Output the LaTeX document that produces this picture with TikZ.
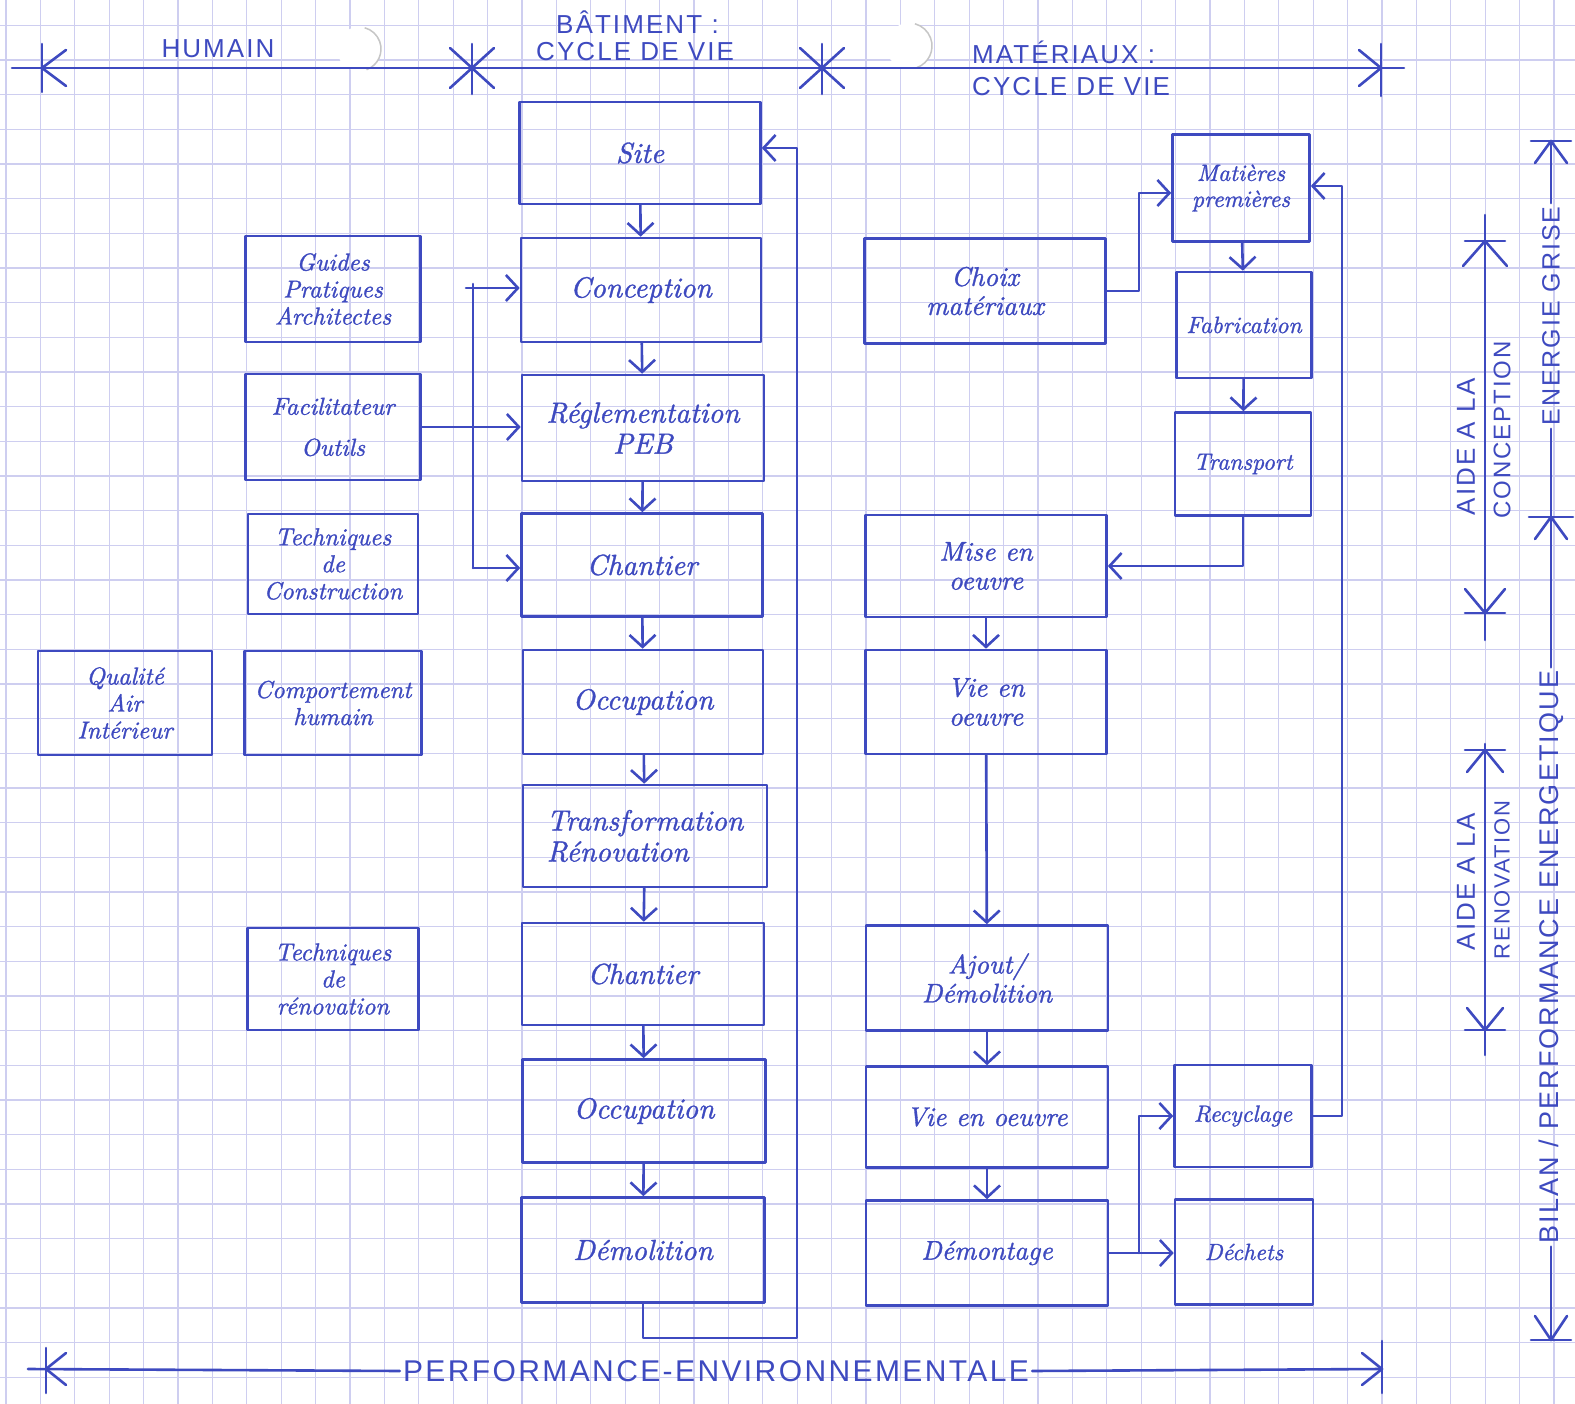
\documentclass[tikz,border=0pt]{standalone}
\usepackage{fontspec}
\usetikzlibrary{arrows.meta,calc}
\newfontfamily\mycapsfam{Liberation Sans}[LetterSpace=8]
\newfontfamily\handit{lmroman10-italic.otf}[FakeBold=1.2]
\definecolor{ink}{RGB}{62,74,192}
\definecolor{gridc}{RGB}{206,206,240}
\newcommand\itL{\handit\fontsize{29}{31}\selectfont}
\newcommand\itM{\handit\fontsize{27}{29}\selectfont}
\newcommand\itS{\handit\fontsize{24.5}{27}\selectfont}
\newcommand\itT{\handit\fontsize{23.5}{26}\selectfont}
\newcommand\capM{\mycapsfam\fontsize{26}{30}\selectfont}
\newcommand\capP{\mycapsfam\fontsize{30}{34}\selectfont}
\begin{document}
\begin{tikzpicture}[x=1pt,y=-1pt,
  gridline/.style={gridc, line width=1.2pt},
  inkline/.style={draw=ink, line width=2.6pt, line cap=round, line join=round},
  box/.style={inkline, rectangle, inner sep=2pt, align=center, text=ink},
  cbox/.style={box, font=\itL},
  lbox/.style={box, font=\itS},
  rbox/.style={box, font=\itM},
  sbox/.style={box, font=\itT},
  arr/.style={inkline, -{Straight Barb[length=12pt,width=26pt]}},
  lab/.style={text=ink, inner sep=3pt},
  vlab/.style={lab, rotate=90},
]
\fill[white] (0,0) rectangle (1575,1404);
\useasboundingbox (0,0) rectangle (1575,1404);
% graph paper
\foreach \i in {0,...,45} \draw[gridline] ({5.9+34.4*\i},0) -- ({5.9+34.4*\i},1404);
\foreach \j in {0,...,40} \draw[gridline] (0,{25.3+34.67*\j}) -- (1575,{25.3+34.67*\j});
% paper reflections
\fill[white] (359,49) circle (22pt);
\draw[gray!45, line width=1.5pt] (359,49) ++(-70:22pt) arc[start angle=-70, end angle=75, radius=22pt];
\fill[white] (909,46) circle (23pt);
\draw[gray!45, line width=1.5pt] (909,46) ++(-70:23pt) arc[start angle=-70, end angle=75, radius=23pt];

% ---------- building life cycle ----------
\node[cbox, minimum width=241pt, minimum height=102pt] (site)  at (640,153)  {Site};
\node[cbox, minimum width=240pt, minimum height=104pt] (conc)  at (641,290)  {Conception};
\node[cbox, minimum width=242pt, minimum height=106pt] (regl)  at (643,428)  {Réglementation\\PEB};
\node[cbox, minimum width=241pt, minimum height=103pt] (chan1) at (642,565)  {Chantier};
\node[cbox, minimum width=240pt, minimum height=104pt] (occ1)  at (643,702)  {Occupation};
\node[cbox, minimum width=244pt, minimum height=102pt, align=left] (trans) at (645,836) {Transformation\\Rénovation};
\node[cbox, minimum width=242pt, minimum height=102pt] (chan2) at (643,974)  {Chantier};
\node[cbox, minimum width=243pt, minimum height=103pt] (occ2)  at (644,1111) {Occupation};
\node[cbox, minimum width=243pt, minimum height=105pt] (dem)   at (643,1250) {Démolition};

% ---------- human ----------
\node[lbox, minimum width=175pt, minimum height=106pt] (guides) at (333,289) {Guides\\Pratiques\\Architectes};
\node[lbox, minimum width=175pt, minimum height=106pt] (facil)  at (333,427) {Facilitateur\\[14pt]Outils};
\node[lbox, minimum width=170pt, minimum height=100pt] (techc)  at (333,564) {Techniques\\de\\Construction};
\node[lbox, minimum width=174pt, minimum height=104pt] (qual)   at (125,703) {Qualité\\Air\\Intérieur};
\node[lbox, minimum width=177pt, minimum height=104pt] (comp)   at (333,703) {Comportement\\humain};
\node[lbox, minimum width=171pt, minimum height=102pt] (techr)  at (333,979) {Techniques\\de\\rénovation};

% ---------- materials ----------
\node[rbox, minimum width=241pt, minimum height=105pt] (choix)  at (985,291)  {Choix\\matériaux};
\node[sbox, minimum width=137pt, minimum height=107pt] (matp)   at (1241,188) {Matières\\premières};
\node[sbox, minimum width=135pt, minimum height=106pt] (fab)    at (1244,325) {Fabrication};
\node[sbox, minimum width=136pt, minimum height=103pt] (transp) at (1243,464) {Transport};
\node[rbox, minimum width=241pt, minimum height=102pt] (mise)   at (986,566)  {Mise en\\oeuvre};
\node[rbox, minimum width=241pt, minimum height=104pt] (vie1)   at (986,702)  {Vie en\\oeuvre};
\node[rbox, minimum width=242pt, minimum height=105pt] (ajout)  at (987,978)  {Ajout/\\Démolition};
\node[rbox, minimum width=242pt, minimum height=101pt] (vie2)   at (987,1117) {Vie en oeuvre};
\node[rbox, minimum width=242pt, minimum height=105pt] (demont) at (987,1253) {Démontage};
\node[sbox, minimum width=137pt, minimum height=102pt] (recy)   at (1243,1116) {Recyclage};
\node[sbox, minimum width=138pt, minimum height=105pt] (dech)   at (1244,1252) {Déchets};

% ---------- connectors: building ----------
\draw[arr] (site) -- (conc);
\draw[arr] (conc) -- (regl);
\draw[arr] (regl) -- (chan1);
\draw[arr] (chan1) -- (occ1);
\draw[arr] (occ1) -- (trans);
\draw[arr] (trans) -- (chan2);
\draw[arr] (chan2) -- (occ2);
\draw[arr] (occ2) -- (dem);
\coordinate (lpA) at (797,1338);
\coordinate (lpB) at (797,148);
\draw[arr] (dem.south) |- (lpA) -- (lpB) -- (site.east |- lpB);

% ---------- connectors: human ----------
\coordinate (busA) at (466,288);
\coordinate (busT) at (473,284);
\coordinate (busB) at (473,568);
\draw[inkline] (busT) -- (busB);
\draw[arr] (busA) -- (conc.west |- busA);
\draw[arr] (busB) -- (chan1.west |- busB);
\draw[arr] (facil.east) -- (regl.west |- facil.east);

% ---------- connectors: materials ----------
\coordinate (jA) at (1139,193);
\draw[arr] (choix.east) -| (jA) -- (matp.west |- jA);
\draw[arr] (matp) -- (fab);
\draw[arr] (fab) -- (transp);
\draw[arr] (transp.south) |- (mise.east);
\draw[arr] (mise) -- (vie1);
\draw[arr] (vie1) -- (ajout);
\draw[arr] (ajout) -- (vie2);
\draw[arr] (vie2) -- (demont);
\draw[arr] (demont.east) -- (dech.west |- demont.east);
\coordinate (jB) at (1139,1253);
\draw[arr] (jB) |- (recy.west);
\coordinate (jC) at (1342,186);
\draw[arr] (recy.east) -| (jC) -- (matp.east |- jC);

% ---------- top dimension line ----------
\node[lab, font=\capM] (hum) at (218,49) {HUMAIN};
\node[lab, font=\capM, anchor=west] (bat1) at (553,22) {BÂTIMENT :};
\node[lab, font=\capM, anchor=west] (bat2) at (533,52) {CYCLE DE VIE};
\node[lab, font=\capM, anchor=west] (mat1) at (969,52) {MATÉRIAUX :};
\node[lab, font=\capM, anchor=west] (mat2) at (969,87) {CYCLE DE VIE};
\coordinate (tL) at (12,68);
\coordinate (tR) at (1404,68);
\coordinate (tA) at (42,68);
\coordinate (tB) at (472,68);
\coordinate (tC) at (822,68);
\coordinate (tD) at (1381,68);
\draw[inkline] (tL) -- (tR);
\draw[inkline] (tA) ++(0,-24) -- ++(0,48);
\draw[inkline] (tA) ++(24,-18) -- (tA) -- ++(24,18);
\draw[inkline] (tB) ++(0,-24) -- ++(0,50);
\draw[inkline] (tB) ++(-22,-20) -- (tB) -- ++(-22,20);
\draw[inkline] (tB) ++(22,-20) -- (tB) -- ++(22,20);
\draw[inkline] (tC) ++(0,-24) -- ++(0,50);
\draw[inkline] (tC) ++(-22,-20) -- (tC) -- ++(-22,20);
\draw[inkline] (tC) ++(22,-20) -- (tC) -- ++(22,20);
\draw[inkline] (tD) ++(0,-24) -- ++(0,52);
\draw[inkline] (tD) ++(-22,-18) -- (tD) -- ++(-22,18);

% ---------- bottom dimension line ----------
\node[lab, font=\capP] (perf) at (716,1371) {PERFORMANCE-ENVIRONNEMENTALE};
\coordinate (bL) at (28,1369);
\coordinate (bA) at (46,1369);
\coordinate (bB) at (1382,1369);
\draw[inkline] (bL) -- (perf.west);
\draw[inkline] (perf.east) -- (bB);
\draw[inkline] (bA) ++(0,-21) -- ++(0,45);
\draw[inkline] (bA) ++(20,-16) -- (bA) -- ++(20,16);
\draw[inkline] (bB) ++(0,-28) -- ++(0,52);
\draw[inkline] (bB) ++(-20,-16) -- (bB) -- ++(-20,16);

% ---------- right: outer axis ----------
\node[vlab, font=\mycapsfam\fontsize{25}{28}\selectfont] (eg) at (1551,316) {ENERGIE GRISE};
\node[vlab, font=\mycapsfam\fontsize{27}{30}\selectfont] (bil) at (1551,957) {BILAN / PERFORMANCE ENERGETIQUE};
\coordinate (oT) at (1551,141);
\coordinate (oM) at (1551,517);
\coordinate (oB) at (1551,1340);
\draw[inkline] (oT) -- (eg.east);
\draw[inkline] (eg.west) -- (oM) -- (bil.east);
\draw[inkline] (bil.west) -- (oB);
\draw[inkline] (oT) ++(-20,0) -- ++(40,0);
\draw[inkline] (oT) ++(-16,22) -- (oT) -- ++(16,22);
\draw[inkline] (oM) ++(-22,0) -- ++(44,0);
\draw[inkline] (oM) ++(-16,22) -- (oM) -- ++(16,22);
\draw[inkline] (oB) ++(-20,0) -- ++(40,0);
\draw[inkline] (oB) ++(-16,-24) -- (oB) -- ++(16,-24);

% ---------- right: inner axes ----------
\coordinate (icT) at (1485,241);
\coordinate (icB) at (1485,613);
\coordinate (icS) at (1485,215);
\coordinate (icE) at (1485,640);
\draw[inkline] (icS) -- (icE);
\draw[inkline] (icT) ++(-20,0) -- ++(40,0);
\draw[inkline] (icT) ++(-22,25) -- (icT) -- ++(22,25);
\draw[inkline] (icB) ++(-20,0) -- ++(40,0);
\draw[inkline] (icB) ++(-20,-24) -- (icB) -- ++(20,-24);
\node[vlab, font=\mycapsfam\fontsize{26}{28}\selectfont] (aide1) at (1466,447) {AIDE A LA};
\node[vlab, font=\mycapsfam\fontsize{24}{26}\selectfont] (conc1) at (1502,430) {CONCEPTION};

\coordinate (irT) at (1485,750);
\coordinate (irB) at (1485,1030);
\coordinate (irS) at (1485,744);
\coordinate (irE) at (1485,1055);
\draw[inkline] (irS) -- (irE);
\draw[inkline] (irT) ++(-20,0) -- ++(40,0);
\draw[inkline] (irT) ++(-18,22) -- (irT) -- ++(18,22);
\draw[inkline] (irB) ++(-20,0) -- ++(40,0);
\draw[inkline] (irB) ++(-18,-22) -- (irB) -- ++(18,-22);
\node[vlab, font=\mycapsfam\fontsize{26}{28}\selectfont] (aide2) at (1466,882) {AIDE A LA};
\node[vlab, font=\mycapsfam\fontsize{22}{24}\selectfont] (reno) at (1502,880) {RENOVATION};
\end{tikzpicture}
\end{document}
